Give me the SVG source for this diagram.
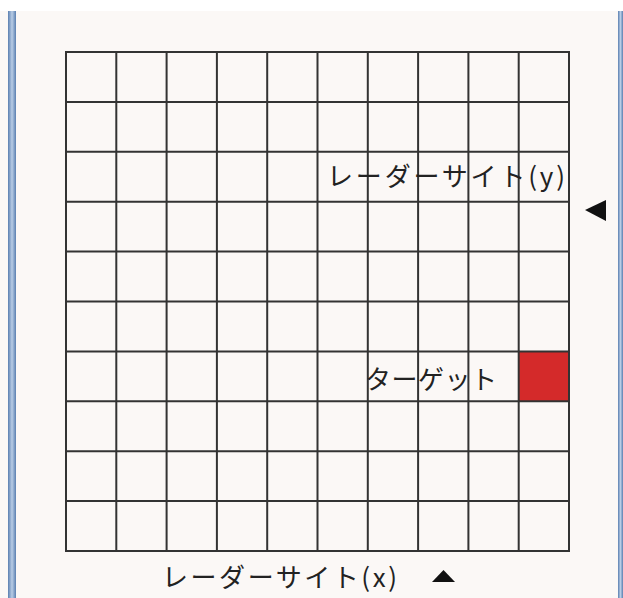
<svg xmlns="http://www.w3.org/2000/svg" width="623" height="598" viewBox="0 0 623 598">
<defs>
<linearGradient id="bar" x1="0" y1="0" x2="1" y2="0">
<stop offset="0" stop-color="#5a7fb0"/>
<stop offset="0.5" stop-color="#b9cde6"/>
<stop offset="1" stop-color="#5a7fb0"/>
</linearGradient>
</defs>
<style>
.g{stroke:#333;stroke-width:2;fill:none}
.t{font-family:"Noto Sans CJK JP","Noto Sans",sans-serif;font-size:26px;fill:#222}
</style>
<rect width="623" height="598" fill="#ffffff"/>
<rect x="0" y="11" width="623" height="587" fill="#fbf8f6"/>
<rect x="8" y="11" width="8" height="587" fill="url(#bar)"/>
<rect x="618" y="11" width="5" height="587" fill="url(#bar)"/>
<g id="target-cell"><rect x="518.7" y="352" width="50.3" height="50" fill="#d42a2a"/></g>
<g id="grid" class="g">
<rect x="66" y="52" width="503" height="499"/>
<path d="M116.3 52V551M166.6 52V551M216.9 52V551M267.2 52V551M317.5 52V551M367.8 52V551M418.1 52V551M468.4 52V551M518.7 52V551"/>
<path d="M66 101.9H569M66 151.8H569M66 201.7H569M66 251.6H569M66 301.5H569M66 351.4H569M66 401.3H569M66 451.2H569M66 501.1H569"/>
</g>
<g id="label-y"><text class="t" x="327" y="186" textLength="238" lengthAdjust="spacing">レーダーサイト(y)</text></g>
<g id="label-target"><text class="t" x="365" y="389" textLength="132" lengthAdjust="spacing">ターゲット</text></g>
<g id="label-x"><text class="t" x="162" y="587" textLength="235" lengthAdjust="spacing">レーダーサイト(x)</text></g>
<g id="marker-y"><polygon points="585,210 606,200 606,221" fill="#111"/></g>
<g id="marker-x"><polygon points="443.5,570 432,582 455,582" fill="#111"/></g>
</svg>
